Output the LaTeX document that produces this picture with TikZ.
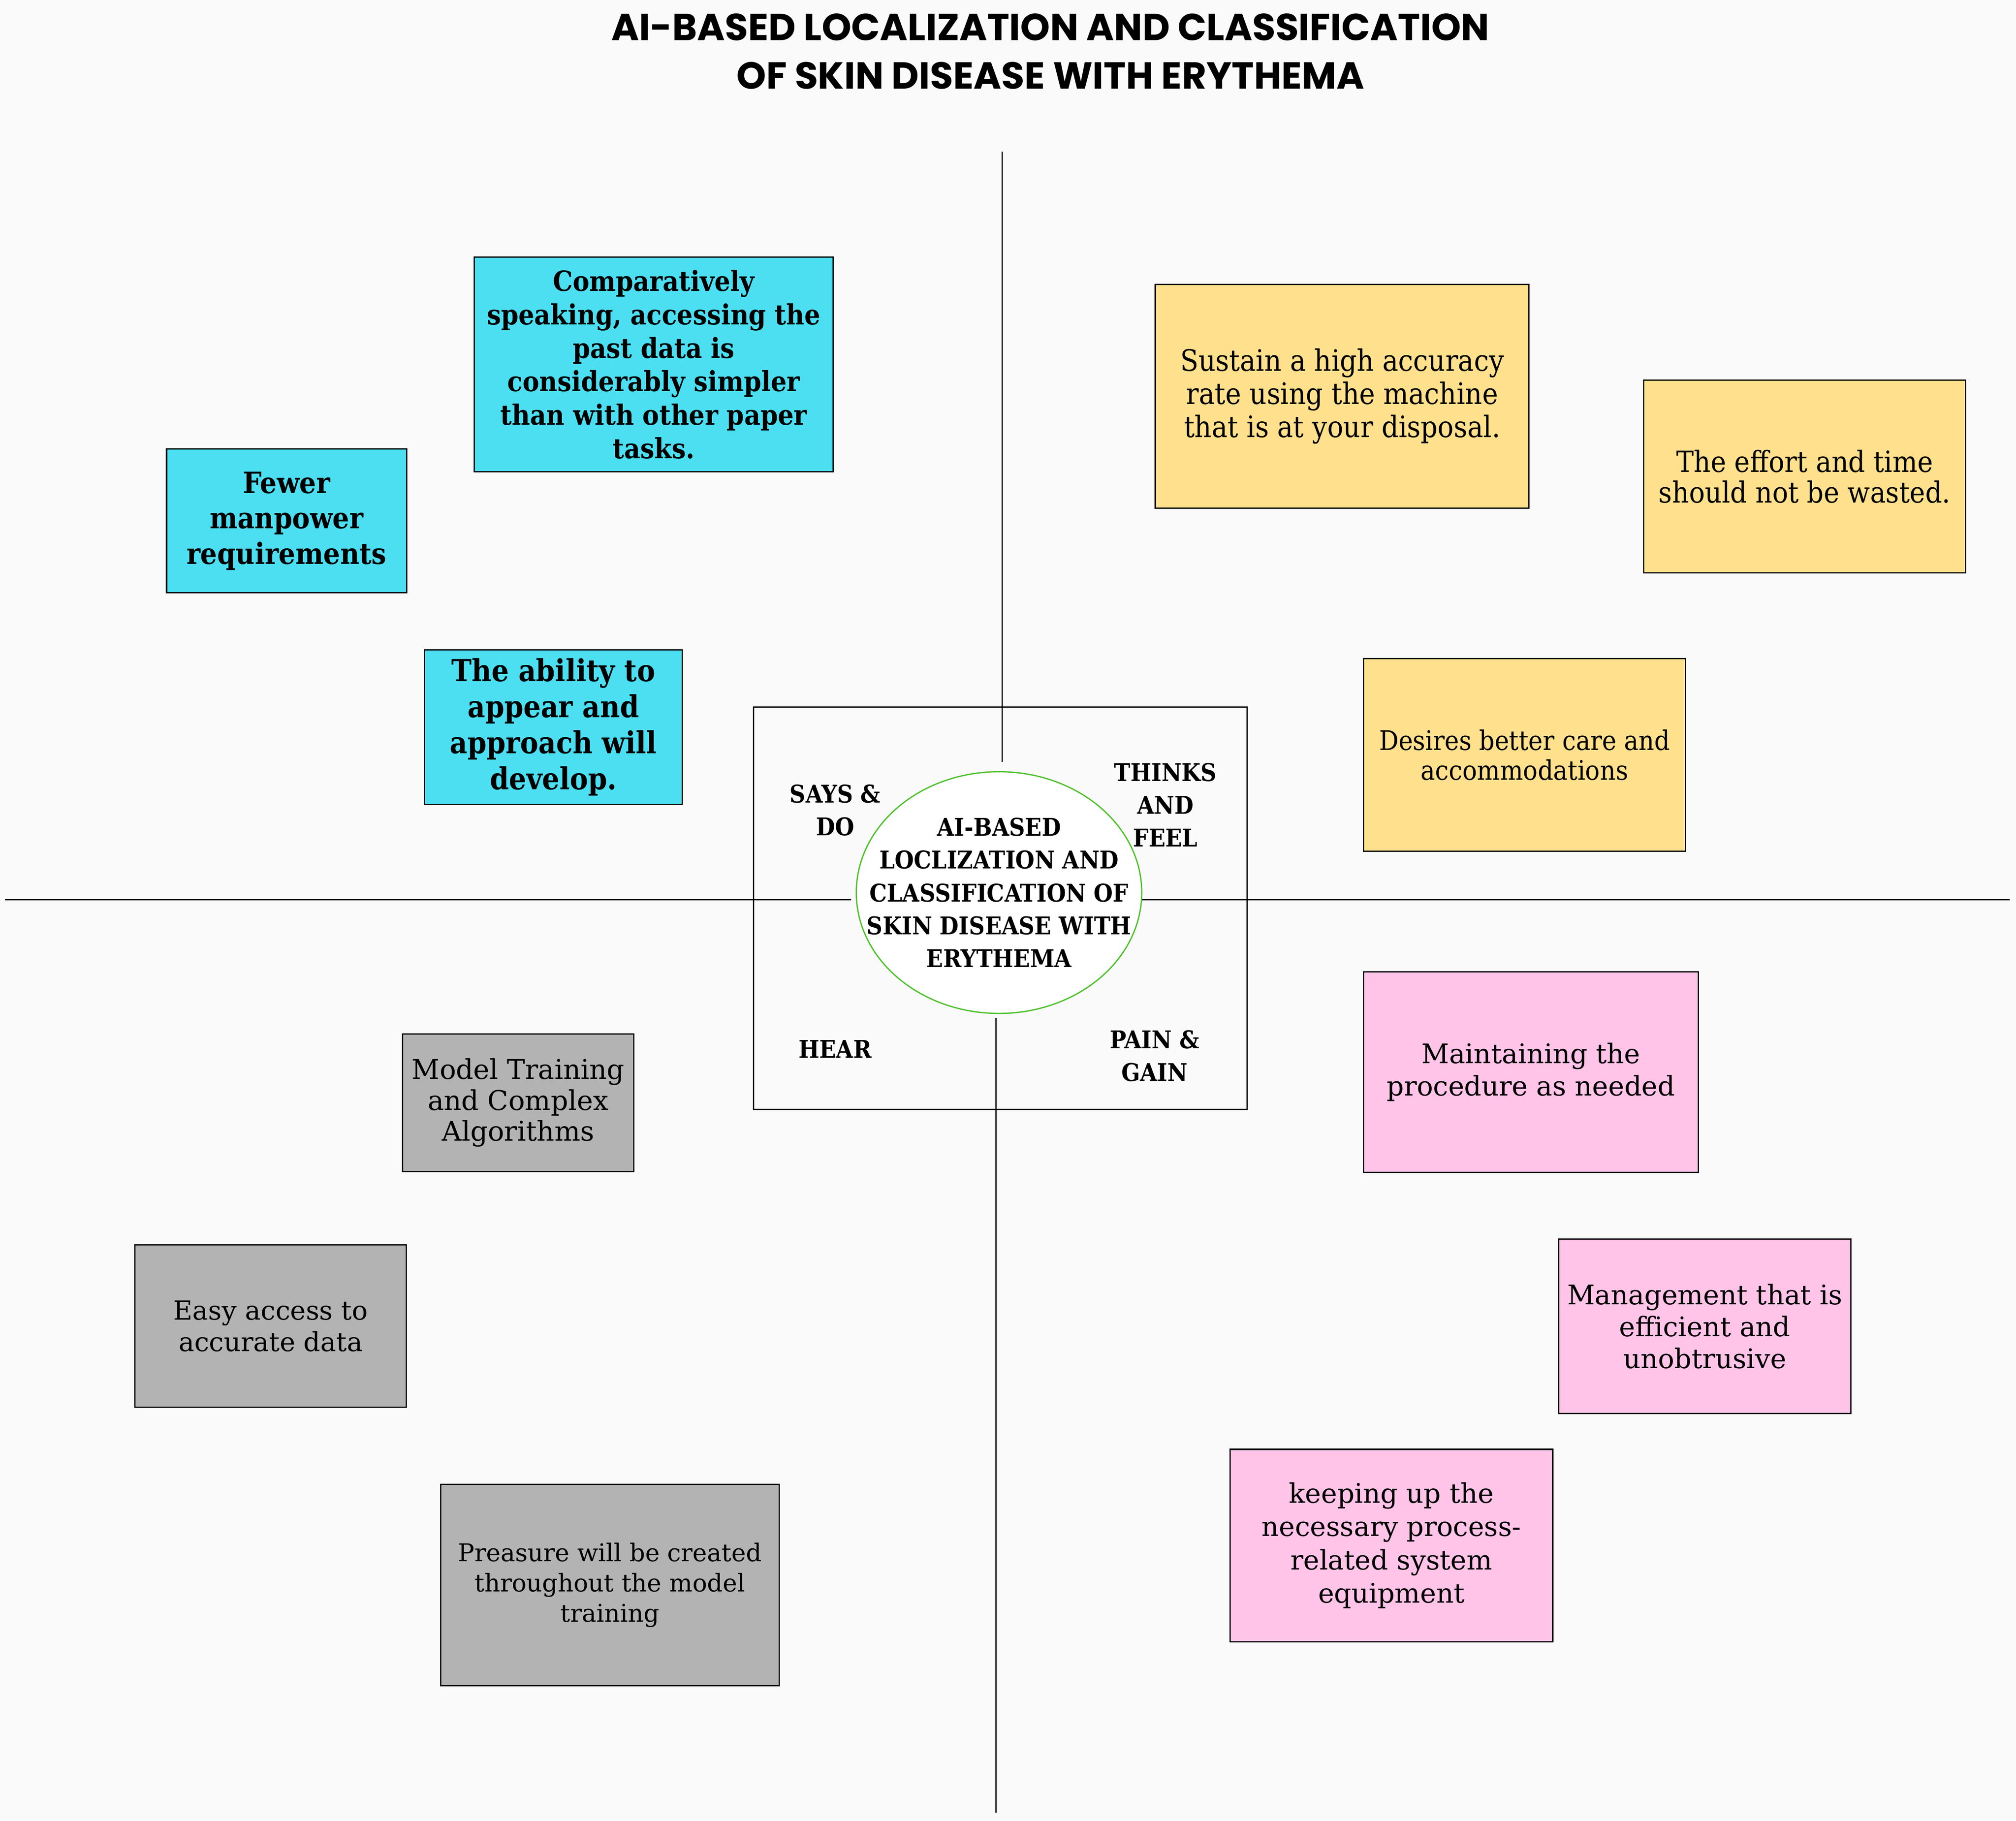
\documentclass[tikz,border=0pt]{standalone}
\usepackage{fontspec}
\usepackage{tikz}
\usetikzlibrary{shapes.geometric}
\setmainfont{DejaVu Serif}
\newfontfamily\condfont{DejaVu Serif Condensed}
\newfontfamily\headfont{Poppins}
\newcommand{\fs}[2]{\fontsize{#1}{#2}\selectfont}
\definecolor{paper}{HTML}{FAFAFA}
\definecolor{sky}{HTML}{4CDFF2}
\definecolor{sand}{HTML}{FFE08C}
\definecolor{blush}{HTML}{FFC4E8}
\definecolor{ash}{HTML}{B3B3B3}
\definecolor{leaf}{HTML}{4DC02A}

\begin{document}
\begin{tikzpicture}[x=1pt, y=-1pt]
        \tikzstyle{every node}=[inner sep=0pt, align=center, text=black]
        \tikzstyle{note}=[rectangle, draw=black, line width=1pt]
        \tikzstyle{axis}=[draw=black, line width=1pt]
        \tikzstyle{tag}=[font=\condfont\bfseries\fs{19}{25.5}]
        \useasboundingbox (0,0) rectangle (1568,1416.2);
        \fill[paper] (0,0) rectangle (1568,1416.2);
        \node[font=\headfont\bfseries\fs{29.3}{37.8}] (title) at (817,40) {AI-BASED LOCALIZATION AND CLASSIFICATION\\OF SKIN DISEASE WITH ERYTHEMA};
        \node[note, minimum width=384pt, minimum height=313pt] (frame) at (778,706.5) {};
        \coordinate (topend) at (779.5,118); \coordinate (topin) at (779.5,592.8);
        \coordinate (botin) at (774.6,791.8); \coordinate (botend) at (774.6,1410);
        \coordinate (leftend) at (4,700); \coordinate (leftin) at (662,700);
        \coordinate (rightin) at (888,700); \coordinate (rightend) at (1563,700);
        \draw[axis] (topend) -- (topin); \draw[axis] (botin) -- (botend);
        \draw[axis] (leftend) -- (leftin); \draw[axis] (rightin) -- (rightend);
        \node[ellipse, draw=leaf, line width=1pt, fill=white, minimum width=222pt, minimum height=188pt] (hub) at (777,694.3) {};
        \node[tag] (hubtext) at (hub) {AI-BASED\\LOCLIZATION AND\\CLASSIFICATION OF\\SKIN DISEASE WITH\\ERYTHEMA};
        \node[tag] (says) at (649.5,630.2) {SAYS \&\\DO};
        \node[tag] (thinks) at (906.4,626) {THINKS\\AND\\FEEL};
        \node[tag] (hear) at (649.5,816) {HEAR};
        \node[tag] (pain) at (898,821.5) {PAIN \&\\GAIN};
        \node[note, fill=sky, minimum width=279pt, minimum height=167pt, font=\condfont\bfseries\fs{21.6}{26}] (past) at (508.5,283.5) {Comparatively\\speaking, accessing the\\past data is\\considerably simpler\\than with other paper\\tasks.};
        \node[note, fill=sky, minimum width=186.7pt, minimum height=111.7pt, font=\condfont\bfseries\fs{22.8}{27.6}] (staff) at (222.9,405.2) {Fewer\\manpower\\requirements};
        \node[note, fill=sky, minimum width=200.7pt, minimum height=120pt, font=\condfont\bfseries\fs{23.6}{28}] (ability) at (430.4,565.6) {The ability to\\appear and\\approach will\\develop.};
        \node[note, fill=sand, minimum width=290.7pt, minimum height=173.8pt, font=\condfont\fs{23}{25.8}] (accuracy) at (1043.9,308.3) {Sustain a high accuracy\\rate using the machine\\that is at your disposal.};
        \node[note, fill=sand, minimum width=250.7pt, minimum height=149.9pt, font=\condfont\fs{22.7}{23.9}] (effort) at (1403.6,370.6) {The effort and time\\should not be wasted.};
        \node[note, fill=sand, minimum width=250.6pt, minimum height=149.9pt, font=\condfont\fs{21}{22.9}] (care) at (1185.7,587.3) {Desires better care and\\accommodations};
        \node[note, fill=blush, minimum width=260.3pt, minimum height=155.8pt, font=\fs{21}{25}] (upkeep) at (1190.7,833.9) {Maintaining the\\procedure as needed};
        \node[note, fill=blush, minimum width=227.1pt, minimum height=135.5pt, font=\fs{21}{24.8}] (manage) at (1326,1031.7) {Management that is\\efficient and\\unobtrusive};
        \node[note, fill=blush, minimum width=250.9pt, minimum height=149.6pt, font=\fs{21}{25.9}] (equip) at (1082.2,1202.2) {keeping up the\\necessary process-\\related system\\equipment};
        \node[note, fill=ash, minimum width=179.7pt, minimum height=107.2pt, font=\fs{21.2}{24}] (training) at (403,857.8) {Model Training\\and Complex\\Algorithms};
        \node[note, fill=ash, minimum width=211.3pt, minimum height=126.1pt, font=\fs{20.5}{24.4}] (access) at (210.5,1031.5) {Easy access to\\accurate data};
        \node[note, fill=ash, minimum width=263.5pt, minimum height=156.6pt, font=\fs{19}{23.5}] (pressure) at (474.4,1232.9) {Preasure will be created\\throughout the model\\training};
    \end{tikzpicture}
\end{document}
